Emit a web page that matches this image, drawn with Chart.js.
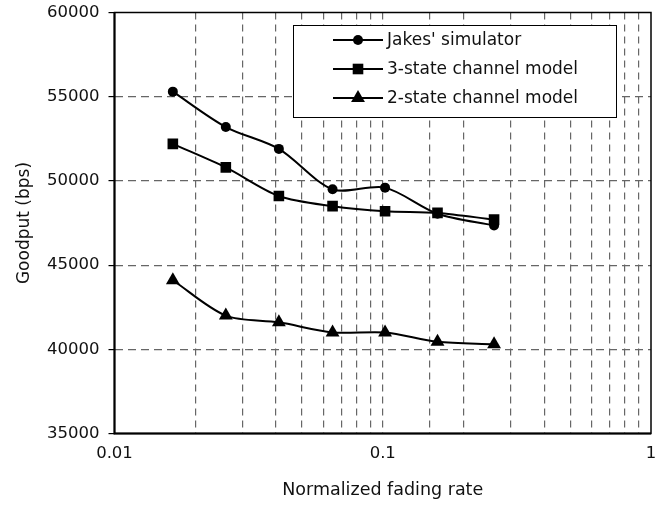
<!DOCTYPE html>
<html>
<head>
<meta charset="utf-8">
<script src="https://cdn.jsdelivr.net/npm/chart.js@4.4.1/dist/chart.umd.min.js"></script>
<style>
  html, body { margin: 0; background: #fff; overflow: hidden; }
  #wrap { width: 659px; height: 505px; }
</style>
</head>
<body>
<div id="wrap"><canvas id="myChart" width="659" height="505"></canvas></div>
<script>
const fadingRates = [0.0165, 0.026, 0.041, 0.065, 0.102, 0.16, 0.26];
const jakes = [55300, 53200, 51900, 49500, 49600, 48050, 47350];
const threeState = [52200, 50800, 49100, 48500, 48200, 48100, 47700];
const twoState = [44100, 42000, 41600, 41000, 41000, 40450, 40300];
const seriesNames = ["Jakes' simulator", '3-state channel model', '2-state channel model'];
const markers = ['circle', 'rect', 'triangle'];
const markerSizes = [5, 7.5, 8];
const xTickLabels = ['0.01', '0.1', '1'];

const FONT = 'DejaVu Sans';
const GRID = '#666';

function toPoints(ys) {
    return ys.map((y, i) => ({ x: fadingRates[i], y: y }));
}

const datasets = [jakes, threeState, twoState].map((ys, i) => ({
    label: seriesNames[i],
    data: toPoints(ys),
    borderColor: '#000',
    backgroundColor: '#000',
    borderWidth: 2,
    tension: 0.3,
    pointStyle: markers[i],
    pointRadius: markerSizes[i],
    pointBorderWidth: 0,
    pointHoverRadius: markerSizes[i]
}));

// frame around the plot + legend box inside it
const boxPlugin = {
    id: 'boxLegend',
    afterDraw(chart) {
        const ctx = chart.ctx;
        const a = chart.chartArea;
        ctx.save();
        ctx.setLineDash([]);
        ctx.strokeStyle = '#000';
        ctx.lineWidth = 1.5;
        ctx.strokeRect(a.left, a.top, a.right - a.left, a.bottom - a.top);
        ctx.lineWidth = 2;
        ctx.beginPath();
        ctx.moveTo(a.left, a.top);
        ctx.lineTo(a.left, a.bottom);
        ctx.lineTo(a.right, a.bottom);
        ctx.stroke();

        // legend
        const bx = 293, by = 25, bw = 323, bh = 92;
        ctx.fillStyle = '#fff';
        ctx.fillRect(bx, by, bw, bh);
        ctx.lineWidth = 1;
        ctx.strokeRect(bx + 0.5, by + 0.5, bw, bh);
        ctx.font = '17px "' + FONT + '"';
        ctx.textBaseline = 'middle';
        ctx.textAlign = 'left';
        seriesNames.forEach((name, i) => {
            const y = 40 + i * 29;
            ctx.strokeStyle = '#000';
            ctx.lineWidth = 2;
            ctx.beginPath();
            ctx.moveTo(333, y);
            ctx.lineTo(383, y);
            ctx.stroke();
            ctx.fillStyle = '#000';
            Chart.helpers.drawPoint(ctx, {
                pointStyle: markers[i], radius: markerSizes[i], rotation: 0, borderWidth: 0
            }, 358, y);
            ctx.fillStyle = '#111';
            ctx.fillText(name, 387, y + 1);
        });
        ctx.restore();
    }
};

const ctx = document.getElementById('myChart').getContext('2d');

const myChart = new Chart(ctx, {
    type: 'line',
    data: { datasets: datasets },
    plugins: [boxPlugin],
    options: {
        responsive: false,
        animation: false,
        events: [],
        layout: { padding: { left: 0, top: 12.5, right: 4.5, bottom: 0 } },
        plugins: {
            legend: { display: false },
            tooltip: { enabled: false }
        },
        scales: {
            x: {
                type: 'logarithmic',
                min: 0.01,
                max: 1,
                afterFit: function(scale) {
                    scale.height = 71.5;
                    scale.paddingLeft = 0;
                    scale.paddingRight = 0;
                },
                border: { display: false, dash: [7, 5] },
                grid: {
                    color: function(c) {
                        const v = c.tick && c.tick.value;
                        if (v === undefined || Math.abs(v - 0.01) < 1e-9 || Math.abs(v - 1) < 1e-9) return 'rgba(0,0,0,0)';
                        return GRID;
                    },
                    lineWidth: 1.2,
                    tickColor: 'rgba(0,0,0,0)',
                    tickLength: 10
                },
                ticks: {
                    autoSkip: false,
                    maxRotation: 0,
                    padding: 0,
                    color: '#111',
                    font: { family: FONT, size: 16.5 },
                    callback: function(value) {
                        const s = String(Number(value.toPrecision(3)));
                        return xTickLabels.includes(s) ? s : '';
                    }
                },
                title: {
                    display: true,
                    text: 'Normalized fading rate',
                    color: '#111',
                    font: { family: FONT, size: 17.5 },
                    padding: { top: 0, bottom: 4 }
                }
            },
            y: {
                min: 35000,
                max: 60000,
                afterFit: function(scale) {
                    scale.width = 114.5;
                    scale.paddingTop = 0;
                    scale.paddingBottom = 0;
                },
                border: { display: false, dash: [8, 5] },
                grid: {
                    color: function(c) {
                        const v = c.tick && c.tick.value;
                        if (v === 35000 || v === 60000) return 'rgba(0,0,0,0)';
                        return GRID;
                    },
                    lineWidth: 1.2,
                    tickColor: '#000',
                    tickLength: 6
                },
                ticks: {
                    stepSize: 5000,
                    padding: 9,
                    color: '#111',
                    font: { family: FONT, size: 16.5 },
                    callback: function(value) { return String(value); }
                },
                title: {
                    display: true,
                    text: 'Goodput (bps)',
                    color: '#111',
                    font: { family: FONT, size: 17 },
                    padding: { top: 14, bottom: 0 }
                }
            }
        }
    }
});
</script>
</body>
</html>
